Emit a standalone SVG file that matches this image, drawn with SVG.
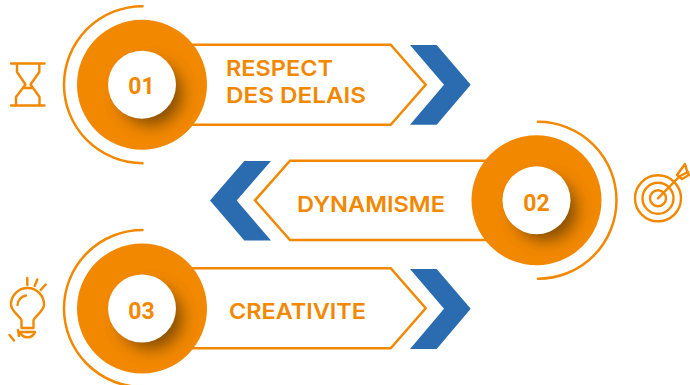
<svg xmlns="http://www.w3.org/2000/svg" width="690" height="385" viewBox="0 0 690 385">
<style>
.arc{fill:none;stroke:#f28800;stroke-width:2.5;stroke-linecap:round}
.panel{fill:#fff;stroke:#f28800;stroke-width:2.5}
.chev{fill:#2b6cb0}
.disc{fill:#f28800}
.hole{fill:#fff}
.shade{fill:#6e4200;opacity:.85}
.num{font-family:Roboto,"Liberation Sans",sans-serif;font-weight:700;font-size:23px;fill:#f28800;text-anchor:middle}
.lab{font-family:Inter,"Liberation Sans",sans-serif;font-weight:600;font-size:22px;fill:#f28800}
.ic{fill:none;stroke:#f28800;stroke-width:2.4;stroke-linecap:round;stroke-linejoin:round}
</style>
<defs>
<filter id="blur" x="-50%" y="-50%" width="200%" height="200%"><feGaussianBlur stdDeviation="8"/></filter>
<clipPath id="c1"><circle cx="142" cy="84.7" r="65"/></clipPath>
<clipPath id="c2"><circle cx="536.5" cy="200.3" r="65"/></clipPath>
<clipPath id="c3"><circle cx="142" cy="308.5" r="65"/></clipPath>
</defs>
<rect width="690" height="385" fill="#fff"/>
<g id="item1">
<path class="panel" d="M180 44.7H390.700L425.700 84.700L390.700 124.700H180Z"/>
<path class="chev" d="M410 45H436.700L470.700 84.700L436.700 124.700H410L444 84.700Z"/>
<path class="arc" d="M142.500 6.200A78.500 78.500 0 0 0 142.500 163.200"/>
<circle class="disc" cx="142" cy="84.700" r="65"/>
<g clip-path="url(#c1)"><circle class="shade" cx="151" cy="94" r="31" filter="url(#blur)"/></g>
<circle class="hole" cx="142" cy="84.700" r="34"/>
<text class="num" x="141.500" y="93.500">01</text>
<text class="lab" x="226" y="75.500" textLength="107" lengthAdjust="spacingAndGlyphs">RESPECT</text>
<text class="lab" x="226" y="103" textLength="140" lengthAdjust="spacingAndGlyphs">DES DELAIS</text>
<g id="hourglass" class="ic">
<path d="M11 63.500H44.500M11 105.500H44.500"/>
<path d="M17 64V72L25.500 84.500L16 97V105M39.300 64V72L30.500 84.500L39.500 97V105M24 88H32"/>
</g>
</g>
<g id="item2">
<path class="panel" d="M490 160.700H290L255 200.300L290 240H490"/>
<path class="chev" d="M271 161H244.300L210 200.500L244.300 240.500H271L236.700 200.500Z"/>
<path class="arc" d="M538 121.800A78.500 78.500 0 0 1 538 278.800"/>
<circle class="disc" cx="536.500" cy="200.300" r="65"/>
<g clip-path="url(#c2)"><circle class="shade" cx="545.500" cy="209.600" r="31" filter="url(#blur)"/></g>
<circle class="hole" cx="536.500" cy="200.300" r="34"/>
<text class="num" x="536.500" y="211">02</text>
<text class="lab" x="297" y="212" textLength="148" lengthAdjust="spacingAndGlyphs">DYNAMISME</text>
<g id="target" class="ic">
<circle cx="658" cy="198.300" r="23"/>
<circle cx="658" cy="198.300" r="15.500"/>
<circle cx="658" cy="198.300" r="8"/>
<path d="M658 198.300L678 178M677 175L685 164L687 171L689 175L682 179L677 175ZM680 176L688 172"/>
</g>
</g>
<g id="item3">
<path class="panel" d="M180 268.300H390.700L425.700 308.300L390.700 348.300H180Z"/>
<path class="chev" d="M410 269H436.700L470.700 308.700L436.700 349H410L444 308.700Z"/>
<path class="arc" d="M142.500 230A78.500 78.500 0 0 0 142.500 387"/>
<circle class="disc" cx="142" cy="308.500" r="65"/>
<g clip-path="url(#c3)"><circle class="shade" cx="151" cy="317.800" r="31" filter="url(#blur)"/></g>
<circle class="hole" cx="142" cy="308.500" r="34"/>
<text class="num" x="141.500" y="319">03</text>
<text class="lab" x="229" y="319" textLength="137" lengthAdjust="spacingAndGlyphs">CREATIVITE</text>
<g id="bulb" class="ic">
<path d="M21.500 328V320C18 314 11 311 11 304.500A16.500 16.500 0 0 1 44 304.500C44 311 37 314 33.500 320V328H21.500"/>
<path d="M17.500 305A10 10 0 0 1 26 295.500M27.300 278V285M37.300 279.500L34.700 286M45.700 284.500L40.700 290M9.500 335L14 340.500"/>
<path d="M18 330L19 336M20 332H35A8 8 0 0 1 20 332Z"/>
</g>
</g>
</svg>
